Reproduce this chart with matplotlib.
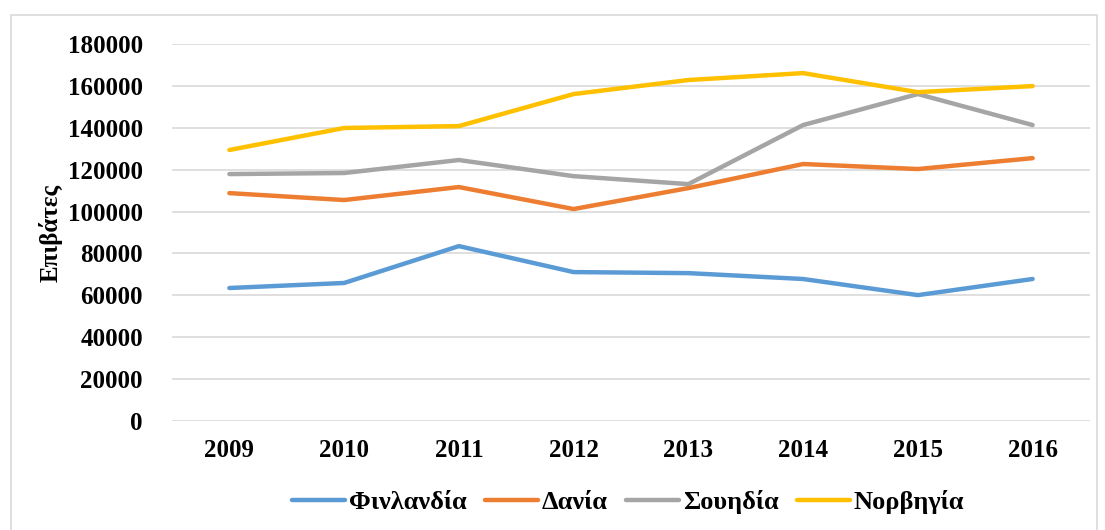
import matplotlib
matplotlib.use("Agg")
import matplotlib.pyplot as plt
from matplotlib.patches import Rectangle

plt.rcParams['font.family'] = ['Liberation Serif', 'DejaVu Serif']
plt.rcParams['font.weight'] = 'bold'

years = ["2009", "2010", "2011", "2012", "2013", "2014", "2015", "2016"]
finland = [63500, 65900, 83500, 71100, 70600, 67800, 60100, 67800]
denmark = [108800, 105500, 111700, 101200, 111200, 122700, 120300, 125500]
sweden = [117900, 118400, 124600, 116900, 113100, 141300, 156100, 141300]
norway = [129400, 139900, 140800, 156100, 162800, 166100, 157000, 159900]

series = [
    ("Φινλανδία", finland, "#5B9BD5"),
    ("Δανία", denmark, "#ED7D31"),
    ("Σουηδία", sweden, "#A5A5A5"),
    ("Νορβηγία", norway, "#FFC000"),
]

fig = plt.figure(figsize=(11.05, 5.30), dpi=100)
ax = fig.add_axes([172 / 1105, 1 - 421 / 530, (1090 - 172) / 1105, (421 - 44) / 530])

x = list(range(len(years)))
for name, vals, col in series:
    ax.plot(x, vals, color=col, linewidth=3.2, label=name, solid_capstyle='round')

ax.set_xlim(-0.5, len(years) - 0.5)
ax.set_ylim(0, 180000)
ax.set_yticks(range(0, 180001, 20000))
ax.set_xticks(x)
ax.set_xticklabels(years)
ax.grid(axis='y', color='#D9D9D9', linewidth=1.2)
ax.set_axisbelow(True)
for s in ax.spines.values():
    s.set_visible(False)
ax.tick_params(axis='both', length=0, labelsize=18)
ax.tick_params(axis='y', pad=21)
ax.tick_params(axis='x', pad=13)
ax.set_ylabel("Επιβάτες", fontsize=18, fontweight='bold', labelpad=4)

fig.legend(loc='center', bbox_to_anchor=(628 / 1105, 1 - 502 / 530), ncol=4,
           frameon=False, fontsize=19, handlelength=2.0, columnspacing=0.7,
           handletextpad=0.15)

fig.patches.append(Rectangle((11 / 1105, -0.05), (1097 - 11) / 1105, 1.05 - 15 / 530,
                             transform=fig.transFigure, fill=False,
                             edgecolor='#D9D9D9', linewidth=1.2))

fig.savefig("out.png", dpi=100)
